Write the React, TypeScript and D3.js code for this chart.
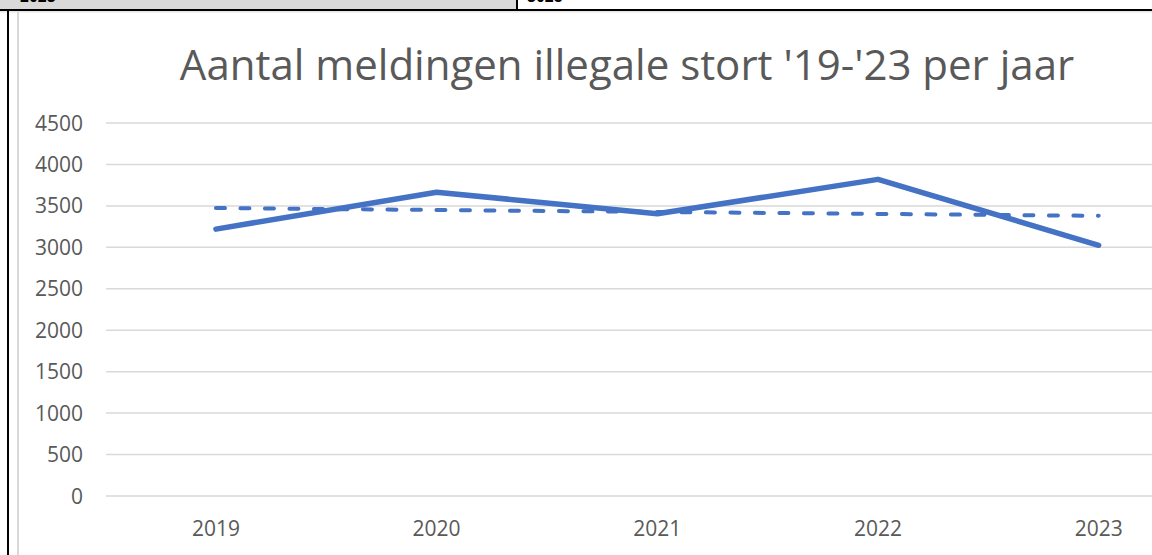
import React from "react";
import * as d3 from "d3";

const years: string[] = ["2019", "2020", "2021", "2022", "2023"];
const meldingen: number[] = [3220, 3665, 3405, 3820, 3025];
const yTicks: number[] = [0, 500, 1000, 1500, 2000, 2500, 3000, 3500, 4000, 4500];
const titleText = "Aantal meldingen illegale stort '19-'23 per jaar";
const topRowLabels: string[] = ["2023", "3025"];

const W = 1152;
const H = 555;
const BLUE = "#4472C4";
const GRID = "#d9d9d9";
const TEXT = "#595959";
const FONT = "'Open Sans', 'Noto Sans', sans-serif";

export default function App() {
  const x = d3.scaleBand<string>().domain(years).range([105.6, 1209]);
  const y = d3.scaleLinear().domain([0, 4500]).range([496, 123]);
  const cx = (d: string) => (x(d) as number) + x.bandwidth() / 2;

  // linear trendline (least squares), like Excel's trendline
  const idx = years.map((_, i) => i);
  const mx = d3.mean(idx) as number;
  const my = d3.mean(meldingen) as number;
  const slope =
    d3.sum(idx, (i) => (i - mx) * (meldingen[i] - my)) /
    d3.sum(idx, (i) => (i - mx) * (i - mx));
  const icpt = my - slope * mx;
  const trend = idx.map((i) => icpt + slope * i);

  const line = d3
    .line<number>()
    .x((_, i) => cx(years[i]))
    .y((v) => y(v));

  return (
    <svg
      width={W}
      height={H}
      style={{ position: "absolute", left: 0, top: 0, background: "#fff" }}
    >
      {/* spreadsheet row remnants */}
      <rect x={0} y={0} width={516} height={9} fill="#d9d9d9" />
      <text x={20} y={2} fontFamily="'Liberation Sans', Arial, sans-serif" fontWeight="bold" fontSize={16} fill="#000">
        {topRowLabels[0]}
      </text>
      <text x={527} y={2} fontFamily="'Liberation Sans', Arial, sans-serif" fontWeight="bold" fontSize={16} fill="#000">
        {topRowLabels[1]}
      </text>
      <rect x={516} y={0} width={2} height={10} fill="#000" />
      <rect x={0} y={9} width={W} height={2} fill="#000" />
      <rect x={0} y={11} width={W} height={1.5} fill="#e6e6e6" />
      <rect x={7} y={10} width={2} height={H - 10} fill="#000" />
      <rect x={17} y={12} width={2} height={H - 12} fill={GRID} />

      {/* title */}
      <text
        x={627}
        y={80}
        textAnchor="middle"
        fontFamily={FONT}
        fontSize={42}
        fill={TEXT}
      >
        {titleText}
      </text>

      {/* gridlines + y labels */}
      {yTicks.map((t) => (
        <g key={t}>
          <line x1={106} x2={W} y1={y(t)} y2={y(t)} stroke={GRID} strokeWidth={1.5} />
          <text
            x={83}
            y={y(t)}
            dy="0.36em"
            textAnchor="end"
            fontFamily={FONT}
            fontSize={21}
            fill={TEXT}
          >
            {t}
          </text>
        </g>
      ))}

      {/* x labels */}
      {years.map((yr) => (
        <text
          key={yr}
          x={cx(yr)}
          y={536}
          textAnchor="middle"
          fontFamily={FONT}
          fontSize={21}
          fill={TEXT}
        >
          {yr}
        </text>
      ))}

      {/* trendline */}
      <path
        d={line(trend) as string}
        fill="none"
        stroke={BLUE}
        strokeWidth={4}
        strokeDasharray="9 15.5"
        strokeLinecap="round"
      />
      {/* data line */}
      <path
        d={line(meldingen) as string}
        fill="none"
        stroke={BLUE}
        strokeWidth={5.5}
        strokeLinecap="round"
        strokeLinejoin="round"
      />
    </svg>
  );
}
